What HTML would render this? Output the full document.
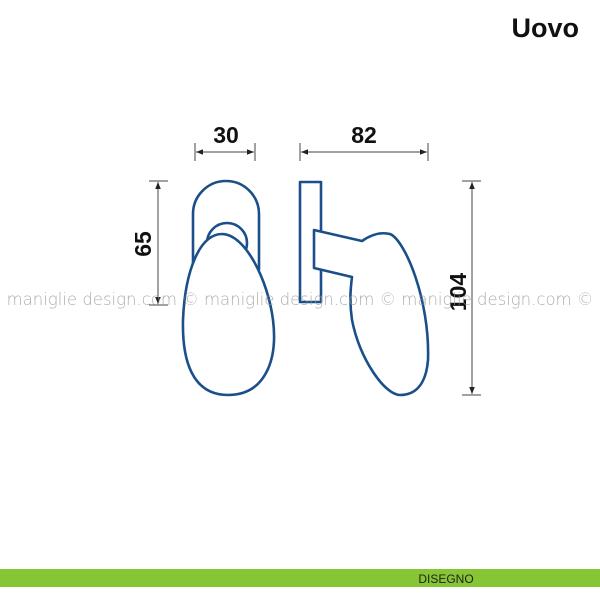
<!DOCTYPE html>
<html><head><meta charset="utf-8"><style>
body{margin:0;width:600px;height:600px;background:#fff;overflow:hidden;}
svg{display:block}
</style></head><body>
<svg width="600" height="600" viewBox="0 0 600 600" xmlns="http://www.w3.org/2000/svg">
<defs><marker id="a" viewBox="0 0 10 10" refX="10" refY="5" markerWidth="7" markerHeight="7" orient="auto-start-reverse"><path d="M0,1 L10,5 L0,9 Z" fill="#222"/></marker></defs>
<text x="579" y="37" font-family="Liberation Sans, sans-serif" font-size="27" font-weight="bold" text-anchor="end" fill="#111">Uovo</text>
<g stroke="#444" stroke-width="1" fill="none">
<line x1="195" y1="143" x2="195" y2="161"/><line x1="255" y1="143" x2="255" y2="161"/>
<line x1="196" y1="152" x2="254" y2="152" marker-start="url(#a)" marker-end="url(#a)"/>
<line x1="300" y1="143" x2="300" y2="161"/><line x1="428" y1="143" x2="428" y2="161"/>
<line x1="301" y1="152" x2="427" y2="152" marker-start="url(#a)" marker-end="url(#a)"/>
<line x1="149" y1="181" x2="168" y2="181"/><line x1="149" y1="305" x2="168" y2="305"/>
<line x1="158" y1="182" x2="158" y2="304" marker-start="url(#a)" marker-end="url(#a)"/>
<line x1="462" y1="181" x2="481" y2="181"/><line x1="462" y1="395" x2="481" y2="395"/>
<line x1="472" y1="182" x2="472" y2="394" marker-start="url(#a)" marker-end="url(#a)"/>
</g>
<g font-family="Liberation Sans, sans-serif" font-size="23" font-weight="bold" fill="#111" text-anchor="middle">
<text x="226" y="143">30</text><text x="364" y="143">82</text>
<text transform="translate(151,244) rotate(-90)">65</text>
<text transform="translate(466,292) rotate(-90)">104</text>
</g>
<g stroke="#1a4f8a" stroke-width="2.6" fill="#fff" stroke-linejoin="round">
<path d="M193,270 L193,214 A33,33 0 0 1 259,214 L259,270"/>
<circle cx="227" cy="243" r="20"/>
<path d="M222,234 C245,234 268,280 273,320 C278,360 265,395 228,395 C192,395 182,360 183,320 C185,270 200,234 222,234 Z"/>
<rect x="300" y="182" width="21" height="120"/>
<path d="M314,230 L362,241 C372,234 382,232 390,234 C405,240 430,300 428,360 C426,385 415,395 400,395 C385,395 360,360 352,320 C349,300 351,285 352,277 L314,268 Z"/>
</g>
<text x="300" y="305" font-family="DejaVu Sans, sans-serif" font-size="16.5" font-weight="200" fill="#999" fill-opacity="0.8" text-anchor="middle">maniglie design.com © maniglie design.com © maniglie design.com ©</text>
<rect x="0" y="569" width="600" height="18" fill="#86c534"/>
<text x="446" y="583" font-family="Liberation Sans, sans-serif" font-size="12" fill="#222" text-anchor="middle">DISEGNO</text>
</svg>
</body></html>
